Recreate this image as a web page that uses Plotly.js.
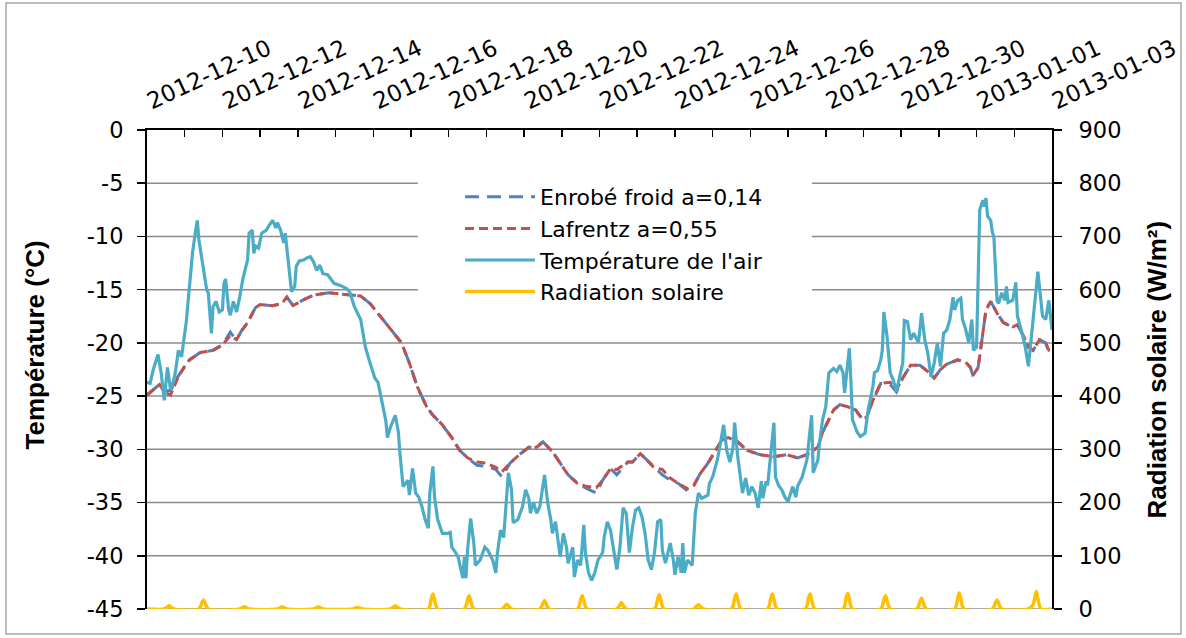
<!DOCTYPE html>
<html>
<head>
<meta charset="utf-8">
<script src="https://cdn.plot.ly/plotly-3.0.1.min.js"></script>
<style>
  html, body { margin: 0; padding: 0; background: #fff; }
  #chart { width: 1186px; height: 638px; }
</style>
</head>
<body>
<div id="chart"></div>
<script>
// Time origin of every series: hours counted from 2012-12-10 00:00
const seriesStart = Date.UTC(2012, 11, 10);

// Air temperature (°C)
const airHours = [0,2,4,7,9,11,13,15,17,18,20,22,25,27,29,31,32,33,36,38,39,41,42,44,46,48,49,50,52,53,55,57,59,61,64,65,67,68,69,71,73,76,78,80,82,83,85,87,88,90,92,94,95,97,100,102,104,106,108,110,112,115,116,119,123,127,129,132,136,139,142,145,147,150,152,153,155,158,160,161,163,166,167,169,171,173,175,177,179,180,182,183,185,188,191,193,194,196,198,201,202,203,204,206,208,209,212,215,217,220,222,223,225,227,228,230,232,233,236,239,241,243,244,246,248,250,253,255,257,258,260,262,263,265,267,268,271,272,274,276,278,279,281,283,285,287,290,291,293,295,297,299,301,303,305,307,309,311,313,315,317,319,321,323,325,327,328,330,333,335,336,338,340,341,342,344,347,348,349,351,353,357,358,360,363,365,367,369,371,373,374,376,379,381,383,385,387,389,391,392,394,395,399,400,402,404,406,408,411,413,414,417,418,420,423,424,427,428,430,432,433,434,437,439,441,443,444,446,447,448,449,452,454,457,459,462,463,465,467,468,469,471,473,475,477,479,481,482,484,486,488,491,493,495,497,499,501,503,505,507,509,511,513,514,516,518,519,521,523,525,526,528,529,530,532,533,534,535,537,538,539,541,542,544,546,547,548,551,553,554,557,559,561,563,567,568,570,572,574,576];
const airTemp = [-23.7,-23.8,-22.5,-21.1,-22.8,-25.4,-22.3,-24.4,-23.5,-22.8,-20.7,-21.3,-18.0,-14.7,-11.5,-9.4,-8.5,-10.3,-13.2,-15.0,-15.3,-19.1,-16.6,-16.1,-17.1,-16.9,-14.4,-14.0,-16.9,-17.4,-16.1,-17.1,-15.7,-14.0,-12.2,-9.7,-9.4,-11.6,-10.9,-11.1,-9.7,-9.4,-8.9,-8.5,-9.2,-8.7,-9.4,-10.6,-9.7,-12.2,-15.2,-14.7,-12.8,-12.3,-12.2,-12.0,-11.9,-12.4,-13.2,-12.7,-13.5,-13.6,-13.8,-14.4,-14.6,-14.9,-15.2,-16.6,-17.8,-20.4,-21.9,-23.3,-23.7,-25.7,-27.3,-28.9,-27.9,-26.8,-28.4,-30.4,-33.5,-32.9,-34.3,-31.8,-34.1,-34.5,-35.4,-36.6,-37.4,-34.1,-31.6,-34.5,-36.6,-37.9,-37.9,-37.8,-39.2,-39.6,-40.1,-42.1,-40.1,-42.1,-39.5,-36.5,-38.8,-40.9,-40.4,-39.2,-39.5,-40.4,-41.6,-39.8,-37.6,-38.3,-35.9,-32.2,-33.8,-36.9,-36.6,-35.4,-33.8,-34.6,-36.0,-35.0,-36.0,-35.4,-32.4,-35.0,-36.6,-37.9,-36.8,-39.2,-40.1,-37.9,-39.2,-40.7,-39.2,-42.0,-40.4,-40.9,-37.1,-39.7,-41.6,-42.3,-41.6,-40.4,-39.7,-38.2,-36.8,-37.6,-39.7,-41.3,-39.2,-35.5,-36.0,-39.7,-37.3,-35.7,-35.5,-36.3,-37.9,-40.4,-41.3,-39.7,-36.8,-36.6,-39.5,-40.7,-38.8,-40.4,-41.8,-40.1,-41.6,-38.8,-41.6,-40.4,-40.9,-37.9,-35.9,-34.1,-34.6,-34.3,-33.2,-32.6,-31.0,-29.4,-27.7,-30.1,-31.2,-29.8,-27.5,-30.7,-34.1,-32.7,-34.3,-33.5,-34.1,-35.5,-33.0,-34.6,-33.0,-33.4,-27.5,-32.6,-33.4,-33.8,-34.5,-34.9,-33.5,-34.5,-33.5,-32.6,-32.1,-31.0,-26.8,-32.2,-31.0,-29.4,-27.2,-26.0,-24.4,-22.8,-22.4,-22.7,-22.1,-22.8,-24.7,-21.6,-20.5,-23.5,-27.2,-28.4,-28.8,-28.5,-26.3,-24.1,-22.8,-22.6,-21.6,-20.7,-17.1,-19.4,-22.8,-23.5,-24.6,-23.2,-21.9,-17.9,-18.0,-19.7,-19.1,-20.0,-17.2,-19.7,-21.0,-23.2,-21.9,-20.0,-22.2,-19.1,-18.8,-17.8,-15.7,-16.9,-16.0,-15.8,-17.8,-18.7,-20.0,-17.8,-20.7,-20.4,-14.7,-7.5,-6.6,-7.2,-6.4,-8.1,-8.5,-9.6,-10.0,-16.0,-16.3,-15.3,-16.0,-14.7,-16.2,-16.0,-14.3,-17.5,-19.1,-20.4,-22.2,-19.1,-13.3,-14.7,-17.5,-17.8,-16.0,-18.8];

// Modelled surface temperature (°C), both models on the same time steps
const modelHours = [0,5,8,11,15,19,23,27,34,42,48,53,55,57,60,64,69,72,80,86,89,93,99,106,116,127,136,142,150,157,162,167,172,178,182,188,194,199,204,210,216,222,226,231,237,243,248,252,258,263,268,274,280,286,290,295,299,306,309,314,318,322,328,333,338,344,348,352,357,362,366,370,376,382,390,399,407,414,420,427,430,434,437,441,446,451,455,458,462,467,473,477,481,486,492,497,501,505,509,516,521,524,526,529,532,534,537,541,545,551,554,558,561,564,568,572,574,576];
const enrobeFroid = [-24.9,-24.3,-23.9,-24.5,-24.5,-23.3,-22.4,-21.6,-20.9,-20.7,-20.2,-19.0,-19.4,-19.7,-18.9,-18.1,-16.7,-16.4,-16.5,-16.3,-15.7,-16.5,-16.0,-15.5,-15.3,-15.5,-15.6,-16.3,-17.8,-19.1,-20.0,-21.9,-24.1,-26.0,-26.8,-27.7,-28.9,-30.1,-30.8,-31.5,-31.6,-31.9,-32.6,-31.3,-30.5,-29.8,-29.8,-29.3,-30.2,-31.3,-32.4,-33.2,-33.7,-34.1,-32.9,-31.8,-32.4,-31.2,-31.2,-30.4,-31.0,-31.6,-32.4,-32.9,-33.2,-33.9,-33.4,-32.3,-31.3,-30.1,-29.1,-28.9,-29.3,-30.1,-30.5,-30.7,-30.5,-30.8,-30.5,-29.8,-28.4,-27.2,-26.3,-25.8,-26.0,-26.3,-27.1,-27.0,-25.4,-23.8,-23.9,-24.6,-23.3,-22.1,-22.1,-22.7,-23.3,-22.5,-22.0,-21.6,-21.8,-22.3,-23.2,-22.3,-19.1,-16.9,-16.1,-17.2,-18.1,-18.5,-18.3,-19.4,-20.4,-20.7,-19.7,-20.0,-20.9,-21.0];
const lafrentz = [-24.9,-24.3,-23.9,-24.6,-24.9,-23.5,-22.4,-21.6,-20.9,-20.7,-20.2,-19.3,-19.5,-19.7,-18.9,-18.1,-16.7,-16.4,-16.5,-16.3,-15.7,-16.5,-16.0,-15.5,-15.3,-15.5,-15.6,-16.3,-17.8,-19.1,-20.0,-21.9,-24.1,-26.0,-26.8,-27.7,-28.9,-30.1,-30.8,-31.2,-31.3,-31.7,-32.1,-31.3,-30.5,-29.8,-29.8,-29.3,-30.2,-31.3,-32.4,-33.2,-33.5,-33.6,-32.9,-31.8,-31.9,-31.2,-31.2,-30.4,-31.0,-31.6,-31.9,-32.7,-33.2,-33.7,-33.4,-32.3,-31.3,-30.1,-29.1,-28.9,-29.3,-30.1,-30.5,-30.7,-30.5,-30.8,-30.5,-29.8,-28.4,-27.2,-26.3,-25.8,-26.0,-26.3,-27.1,-27.0,-25.4,-23.8,-23.7,-24.4,-23.3,-22.1,-22.1,-22.7,-23.3,-22.5,-22.0,-21.6,-21.8,-22.3,-23.0,-22.3,-19.1,-16.9,-16.1,-17.2,-18.1,-18.5,-18.3,-19.4,-20.4,-20.7,-19.7,-20.0,-20.7,-20.9];

// Solar radiation (W/m²)
const radHours = [0,11,13,14,15,17,33,35,36,37,39,59,61,62,63,65,83,85,86,87,89,106,108,109,110,112,131,133,134,135,137,155,157,158,159,161,179,181,182,183,185,202,204,205,206,208,226,228,229,230,232,250,252,253,254,256,274,276,277,278,280,299,301,302,303,305,323,325,326,327,329,348,350,351,352,354,372,374,375,376,378,395,397,398,399,401,419,421,422,423,425,443,445,446,447,449,467,469,470,471,473,490,492,493,494,496,514,516,517,518,520,538,540,541,542,544,561,563,564,565,566,567,569,576];
const radValue = [0,0,4,6,4,0,0,12,17,11,0,0,3,4,3,0,0,3,4,3,0,0,3,4,3,0,0,2,3,2,0,0,4,6,4,0,0,20,28,18,0,0,18,25,16,0,0,6,9,6,0,0,11,16,10,0,0,18,25,16,0,0,8,12,7,0,0,19,27,17,0,0,6,8,5,0,0,20,28,18,0,0,20,28,18,0,0,20,28,18,0,0,21,29,19,0,0,18,25,16,0,0,14,20,13,0,0,21,30,19,0,0,12,17,11,0,0,5,8,20,33,20,0,0];

// Axis ticks
const dateTicks = ['2012-12-10','2012-12-12','2012-12-14','2012-12-16','2012-12-18','2012-12-20','2012-12-22','2012-12-24','2012-12-26','2012-12-28','2012-12-30','2013-01-01','2013-01-03'];
const tempTicks = [0,-5,-10,-15,-20,-25,-30,-35,-40,-45];
const tempTickText = ['0','-5','-10','-15','-20','-25','-30','-35','-40','-45'];
const radTicks = [0,100,200,300,400,500,600,700,800,900];

const seriesNames = ['Enrobé froid a=0,14', 'Lafrentz a=0,55', "Température de l'air", 'Radiation solaire'];

function hourToDate(h) {
  return new Date(seriesStart + h * 3600000).toISOString().slice(0, 19).replace('T', ' ');
}

const tickFont = { family: 'DejaVu Sans', size: 22.5, color: '#000' };
const gridColor = '#8c8c8c';

const traces = [
  {
    x: modelHours.map(hourToDate), y: enrobeFroid, name: seriesNames[0],
    type: 'scatter', mode: 'lines',
    line: { color: '#4F81BD', width: 3, dash: '14px,8px' }
  },
  {
    x: modelHours.map(hourToDate), y: lafrentz, name: seriesNames[1],
    type: 'scatter', mode: 'lines',
    line: { color: '#C0504D', width: 3, dash: '9px,5px' }
  },
  {
    x: airHours.map(hourToDate), y: airTemp, name: seriesNames[2],
    type: 'scatter', mode: 'lines',
    line: { color: '#4BACC6', width: 3.2 }
  },
  {
    x: radHours.map(hourToDate), y: radValue, name: seriesNames[3],
    type: 'scatter', mode: 'lines', yaxis: 'y2',
    line: { color: '#FFC000', width: 3.5, shape: 'spline', smoothing: 0.8 }
  }
];

// Horizontal gridlines on the temperature scale, drawn as shapes so the
// legend panel can sit on top of them while staying under the curves
const gridShapes = tempTicks.filter(t => t !== 0).map(t => ({
  type: 'line', xref: 'paper', x0: 0, x1: 1, yref: 'y', y0: t, y1: t,
  line: { color: gridColor, width: 1.5 }, layer: 'below'
}));

const layout = {
  width: 1186, height: 638,
  margin: { l: 147, r: 134, t: 130, b: 29, pad: 0 },
  paper_bgcolor: '#fff', plot_bgcolor: 'rgba(0,0,0,0)',
  showlegend: true,
  xaxis: {
    type: 'date', side: 'top',
    range: ['2012-12-10', '2013-01-03'],
    tickmode: 'array', tickvals: dateTicks, ticktext: dateTicks,
    tickangle: -25, tickfont: { family: 'DejaVu Sans', size: 23, color: '#000' },
    ticks: 'inside', ticklen: 7, tickwidth: 1.5, tickcolor: '#000',
    ticklabelstandoff: 8,
    minor: { tickmode: 'linear', tick0: '2012-12-10', dtick: 86400000, ticks: 'inside', ticklen: 7, tickwidth: 1.5, tickcolor: '#000', showgrid: false },
    showline: true, linecolor: '#000', linewidth: 2,
    showgrid: false, zeroline: false, fixedrange: true
  },
  yaxis: {
    range: [-45, 0],
    tickmode: 'array', tickvals: tempTicks, ticktext: tempTickText,
    tickfont: tickFont, ticks: 'outside', ticklen: 8, tickwidth: 1.5, tickcolor: '#000',
    ticklabelstandoff: 9,
    showline: true, linecolor: '#000', linewidth: 2,
    showgrid: false, zeroline: false, fixedrange: true
  },
  yaxis2: {
    overlaying: 'y', side: 'right',
    range: [0, 900],
    tickmode: 'array', tickvals: radTicks,
    tickfont: tickFont, ticks: 'outside', ticklen: 8, tickwidth: 1.5, tickcolor: '#000',
    ticklabelstandoff: 12,
    showline: true, linecolor: '#000', linewidth: 2,
    showgrid: false, zeroline: false, fixedrange: true
  },
  legend: {
    x: 0.3459, y: 0.904, xanchor: 'left', yanchor: 'top',
    bgcolor: 'rgba(255,255,255,0)', borderwidth: 0,
    font: { family: 'DejaVu Sans', size: 22, color: '#000' },
    itemwidth: 70, tracegroupgap: 0, traceorder: 'normal'
  },
  shapes: gridShapes.concat([
    // white panel behind the legend
    { type: 'rect', xref: 'paper', yref: 'paper', x0: 0.2994, x1: 0.7348, y0: 0.641, y1: 0.912,
      fillcolor: '#fff', line: { width: 0 }, layer: 'below' },
    // chart frame
    { type: 'rect', xref: 'paper', yref: 'paper', x0: -0.1558, x1: 1.1425, y0: -0.052, y1: 1.265,
      line: { color: '#a6a6a6', width: 1.5 }, fillcolor: 'rgba(0,0,0,0)', layer: 'above' }
  ]),
  annotations: [
    { text: 'Température (°C)', xref: 'paper', yref: 'paper', x: -0.1232, y: 0.5511,
      xanchor: 'center', yanchor: 'middle', textangle: -90, showarrow: false,
      font: { family: 'Liberation Sans', size: 26, weight: 'bold', color: '#000' } },
    { text: 'Radiation solaire (W/m²)', xref: 'paper', yref: 'paper', x: 1.116, y: 0.5,
      xanchor: 'center', yanchor: 'middle', textangle: -90, showarrow: false,
      font: { family: 'Liberation Sans', size: 26, weight: 'bold', color: '#000' } }
  ]
};

Plotly.newPlot('chart', traces, layout, { displayModeBar: false, staticPlot: true });
</script>
</body>
</html>
